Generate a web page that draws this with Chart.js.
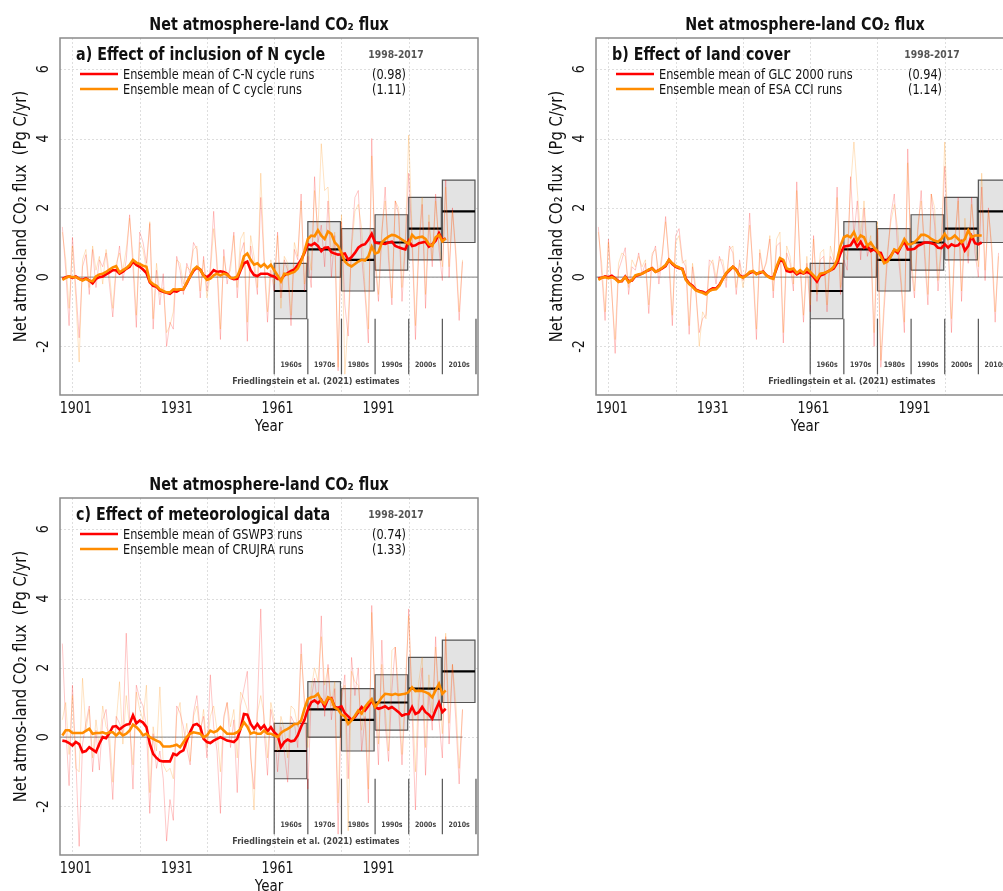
<!DOCTYPE html>
<html>
<head>
<meta charset="utf-8">
<script src="https://cdn.jsdelivr.net/npm/chart.js@4.4.0/dist/chart.umd.min.js"></script>
<style>
  html, body { margin: 0; padding: 0; background: #fff; width: 1003px; height: 891px; overflow: hidden; }
  canvas { position: absolute; }
  #pa { left: 0; top: 0; }
  #pb { left: 536px; top: 0; }
  #pc { left: 0; top: 460px; }
</style>
</head>
<body>
<canvas id="pa" width="480" height="445"></canvas>
<canvas id="pb" width="480" height="445"></canvas>
<canvas id="pc" width="480" height="445"></canvas>
<script>
// annual series start in 1897, smoothed ensemble means run 1897-2011
const thinStart = 1897;
const meanStart = 1897;

// a) C-N vs C cycle
const cnThin = [1.45, 0.2, -1.4,
  1.15, -0.3, -1.75, 0.3, 0.65, -0.5, 0.8, -0.3, 0.5, 0.3,
  0.7, -0.2, -1.15, 0.2, 0.9, -0.1, 0.5, 1.8, 0.3, -1.45,
  1.3, 1.0, 0.4, 1.55, -1.5, 0.2, -0.8, 0.1, -2.0, -1.3,
  -1.5, 0.6, 0.2, -0.5, 0.4, 0.1, 1.0, 0.8, -0.6, 0.6,
  -0.4, 0.3, 1.9, 0.2, -1.8, 0.8, -0.2, 0.4, 1.3, -0.6,
  0.7, 1.0, -1.85, 0.9, 0.3, -0.5, 2.3, 0.4, -1.3, 0.2,
  -0.4, 1.3, -0.6, 0.5, 0.2, -1.4, 0.8, 0.5, 2.4, -0.4,
  0.6, -0.3, 2.9, 1.0, 1.5, 0.3, 2.2, 0.0, 1.2, -2.7,
  1.6, -0.8, -1.7, 1.0, 2.3, 2.5, 0.6, -0.5, -1.9, 4.0,
  0.4, -0.7, 1.2, 2.6, 0.5, -0.8, 2.2, 1.8, -0.7, 0.9,
  3.0, 1.0, -1.8, 0.8, 2.1, -0.9, 1.6, 0.3, 2.4, 0.8,
  -0.1, 2.8, 0.0, 2.0, 0.6, -1.25, 0.45];
const cThin = [1.3, 0.5, -0.9,
  0.9, -0.6, -2.45, 0.5, 0.8, -0.3, 0.9, 0.2, 0.6, -0.2,
  0.8, 0.1, -0.9, 0.4, 0.7, 0.2, 0.8, 1.7, 0.6, -1.1,
  1.0, 0.8, 0.2, 1.6, -1.2, 0.4, -0.5, -0.3, -1.6, -1.4,
  -1.0, 0.5, 0.4, -0.2, 0.3, 0.2, 0.8, 0.9, -0.4, 0.5,
  -0.6, 0.1, 1.4, 0.5, -1.5, 0.6, 0.0, 0.2, 1.2, -0.3,
  1.1, 1.3, -1.3, 1.2, 0.6, -0.3, 3.0, 0.6, -1.0, 0.5,
  -0.2, 1.2, -0.9, 0.6, 0.4, -1.1, 1.0, 0.6, 2.2, -0.2,
  0.9, 0.2, 2.5, 1.3, 3.85, 2.5, 2.6, 0.6, 1.3, -2.6,
  1.8, -2.8, -1.2, 0.8, 1.9, 2.1, 1.4, -0.3, -1.5, 3.5,
  0.6, -0.5, 1.4, 2.2, 0.8, -0.6, 2.2, 2.0, -0.3, 1.1,
  4.1, 1.3, -1.4, 1.0, 2.3, -0.5, 1.8, 0.5, 2.2, 1.0,
  0.3, 2.6, 0.3, 1.9, 0.8, -1.0, 0.5];
const cnMean = [-0.05, 0.0, 0.02,
  -0.02, 0.02, -0.05, -0.08, -0.03, -0.1, -0.18, -0.05, 0.0, 0.02,
  0.08, 0.14, 0.2, 0.2, 0.1, 0.16, 0.24, 0.3, 0.45, 0.35,
  0.3, 0.22, 0.12, -0.15, -0.25, -0.28, -0.38, -0.42, -0.45, -0.48,
  -0.4, -0.42, -0.36, -0.35, -0.18, 0.02, 0.18, 0.28, 0.22, 0.05,
  0.0, 0.08, 0.2, 0.15, 0.17, 0.15, 0.1, -0.02, -0.06, -0.05,
  0.2, 0.4, 0.45, 0.2, 0.06, 0.03, 0.1, 0.1, 0.1, 0.05,
  0.02, -0.05, -0.06, 0.05, 0.12, 0.18, 0.22, 0.35, 0.5, 0.7,
  0.95, 0.92, 0.98, 0.9, 0.75, 0.85, 0.86, 0.72, 0.68, 0.65,
  0.66, 0.68, 0.5, 0.58, 0.7, 0.85, 0.92, 0.95, 1.08, 1.25,
  1.0, 0.98, 0.97, 0.96, 1.0, 1.02, 0.9, 0.86, 0.83, 0.8,
  1.05, 0.9, 0.92, 0.98, 1.0, 1.02, 0.88, 0.95, 1.05, 1.27,
  1.06, 1.12];
const cMean = [-0.08, -0.02, 0.02,
  0.0, 0.0, -0.05, -0.1, -0.05, -0.1, -0.12, 0.02, 0.08, 0.1,
  0.15, 0.22, 0.28, 0.32, 0.14, 0.2, 0.26, 0.35, 0.5, 0.42,
  0.38, 0.33, 0.3, -0.12, -0.2, -0.25, -0.35, -0.4, -0.44, -0.44,
  -0.35, -0.36, -0.35, -0.35, -0.15, 0.02, 0.22, 0.3, 0.22, 0.05,
  -0.08, -0.04, 0.05, 0.1, 0.05, 0.1, 0.07, -0.02, -0.03, 0.02,
  0.25, 0.6, 0.68, 0.5, 0.36, 0.4, 0.3, 0.38, 0.27, 0.36,
  0.2, 0.05, -0.12, 0.1, 0.08, 0.12, 0.15, 0.25, 0.45, 0.75,
  1.1, 1.2, 1.18, 1.35, 1.2, 1.1, 1.32, 1.25, 1.0, 0.9,
  0.7, 0.45, 0.36, 0.31, 0.38, 0.45, 0.5, 0.48, 0.6, 0.88,
  0.68, 0.72, 1.0, 1.1, 1.17, 1.22, 1.2, 1.15, 1.08, 1.02,
  0.96, 1.22, 1.12, 1.15, 1.17, 1.1, 0.95, 0.9, 1.15, 1.22,
  1.03, 1.12];

// b) GLC 2000 vs ESA CCI land cover
const glcThin = [1.45, 0.1, -1.25,
  1.1, -0.4, -2.2, 0.2, 0.5, 0.85, -0.5, 0.3, 0.2, 0.7,
  0.1, 0.4, -1.05, 0.6, 0.9, -0.2, 0.6, 1.75, 0.4, -1.4,
  1.2, 1.4, 0.5, 0.3, -1.65, 0.3, -0.5, -1.6, -1.2, -1.1,
  0.5, 0.4, -0.2, 0.6, 0.3, -0.3, 0.9, 0.7, -0.5, 0.5,
  -0.1, 0.2, 1.85, 0.1, -1.8, 0.7, 0.1, 0.5, 1.1, -0.6,
  0.9, 1.0, -1.9, 0.7, 0.4, -0.4, 2.75, 0.3, -1.3, 0.4,
  -1.0, 1.2, -0.7, 0.5, 0.6, -1.0, 0.6, 0.4, 2.6, -0.5,
  0.5, 0.2, 2.9, 1.2, 2.2, 0.5, 2.0, 0.6, 1.0, -2.0,
  1.4, -2.6, -0.9, 0.6, 1.8, 2.4, 0.8, -0.2, -1.6, 3.7,
  0.3, -0.6, 1.3, 2.5, 0.6, -0.8, 2.4, 1.5, -0.4, 0.8,
  3.2, 0.9, -1.6, 0.9, 2.3, -0.7, 1.4, 0.4, 2.3, 0.7,
  0.0, 2.6, -0.1, 2.0, 0.7, -1.3, 0.7];
const esaThin = [1.3, 0.4, -1.0,
  1.0, -0.5, -1.8, 0.4, 0.7, 0.6, -0.3, 0.5, 0.3, 0.6,
  0.3, 0.5, -0.8, 0.7, 0.8, 0.1, 0.7, 1.6, 0.6, -1.1,
  1.0, 1.2, 0.4, 0.5, -1.4, 0.4, -0.3, -2.0, -1.0, -1.2,
  0.3, 0.5, 0.0, 0.5, 0.5, -0.1, 0.8, 0.9, -0.3, 0.4,
  -0.3, 0.3, 1.5, 0.3, -1.5, 0.8, 0.2, 0.4, 1.2, -0.4,
  1.1, 1.3, -1.6, 0.9, 0.6, -0.2, 2.5, 0.5, -1.1, 0.6,
  -0.8, 1.1, -0.5, 0.7, 0.8, -0.8, 0.9, 0.5, 2.3, -0.3,
  0.8, 0.5, 2.6, 3.9, 2.5, 1.2, 2.2, 0.8, 1.2, -1.6,
  1.6, -2.4, -0.6, 0.8, 1.6, 2.1, 1.4, 0.0, -1.3, 3.3,
  0.6, -0.4, 1.5, 2.2, 0.9, -0.5, 2.4, 2.0, -0.1, 1.0,
  3.9, 1.2, -1.2, 1.1, 2.2, -0.4, 1.7, 0.6, 2.1, 1.0,
  0.3, 3.0, 0.2, 1.9, 0.9, -1.0, 0.6];
const glcMean = [-0.03, -0.02, 0.02,
  0.0, 0.04, -0.03, -0.12, -0.12, 0.02, -0.12, -0.1, 0.03, 0.06,
  0.1, 0.16, 0.2, 0.26, 0.16, 0.2, 0.25, 0.32, 0.5, 0.38,
  0.3, 0.26, 0.24, -0.05, -0.18, -0.25, -0.36, -0.4, -0.42, -0.47,
  -0.38, -0.32, -0.33, -0.22, -0.05, 0.1, 0.2, 0.3, 0.22, 0.05,
  0.0, 0.05, 0.12, 0.16, 0.1, 0.12, 0.16, 0.05, 0.0, -0.03,
  0.25, 0.5, 0.45, 0.18, 0.15, 0.18, 0.08, 0.14, 0.1, 0.15,
  0.1, 0.0, -0.13, 0.05, 0.08, 0.15, 0.2, 0.25, 0.4, 0.68,
  0.88, 0.9, 0.92, 1.08, 0.88, 1.02, 0.85, 0.9, 0.75, 0.8,
  0.72, 0.7, 0.45, 0.5, 0.62, 0.78, 0.7, 0.88, 1.03, 0.8,
  0.8, 0.82, 0.9, 0.95, 1.0, 1.0, 0.98, 0.95, 0.85, 0.84,
  0.95, 0.85, 0.95, 0.9, 0.92, 1.03, 0.77, 0.9, 1.18, 0.98,
  0.95, 1.0];
const esaMean = [-0.08, -0.02, 0.0,
  -0.03, 0.0, -0.05, -0.14, -0.1, 0.0, -0.15, -0.08, 0.05, 0.08,
  0.1, 0.15, 0.22, 0.25, 0.15, 0.2, 0.27, 0.35, 0.5, 0.4,
  0.32, 0.28, 0.22, -0.08, -0.2, -0.28, -0.38, -0.42, -0.45, -0.5,
  -0.4, -0.36, -0.35, -0.25, -0.05, 0.12, 0.22, 0.3, 0.2, 0.03,
  -0.02, 0.05, 0.15, 0.18, 0.08, 0.15, 0.15, 0.05, -0.02, -0.05,
  0.3, 0.55, 0.5, 0.25, 0.22, 0.25, 0.12, 0.2, 0.12, 0.25,
  0.15, 0.05, -0.05, 0.1, 0.12, 0.15, 0.2, 0.3, 0.5, 0.9,
  1.15, 1.2, 1.15, 1.3, 1.05, 1.2, 1.15, 0.9, 1.0, 0.85,
  0.75, 0.6, 0.4, 0.45, 0.6, 0.8, 0.75, 0.9, 1.1, 0.95,
  0.95, 1.0, 1.1, 1.22, 1.22, 1.18, 1.1, 1.05, 1.02, 1.1,
  1.25, 1.1, 1.12, 1.2, 1.1, 1.0, 1.1, 1.35, 1.15, 1.2,
  1.2, 1.2];

// c) GSWP3 vs CRUJRA forcing
const gswpThin = [2.7, 0.3, -1.4,
  1.5, -0.6, -3.15, -0.2, 0.4, 0.9, -1.0, 0.2, -0.95, 0.5,
  0.8, -0.3, -1.8, 0.6, 0.4, 0.1, 3.0, 0.5, -1.5, 1.5,
  1.1, 0.9, 0.3, -2.2, 0.1, -0.9, -0.4, -1.2, -3.0, -1.8,
  -2.4, 0.9, 0.7, 0.3, -0.3, -0.8, 0.7, 1.2, 0.2, 0.6,
  -0.6, 1.8, 0.3, -0.4, -2.2, 0.6, 1.0, -0.3, 0.5, -1.6,
  0.9, 1.4, 1.9, -0.6, -1.5, 0.9, 3.7, 0.2, -1.1, 0.8,
  0.3, -1.0, 0.3, -0.4, -1.3, 0.6, 0.4, -0.3, 2.7, 0.9,
  -1.5, 1.1, 1.7, 0.8, 3.5, 0.6, 2.1, 0.5, 1.4, -2.8,
  1.0, 1.8, -1.2, 2.3, 1.2, 2.0, -0.4, 0.6, -1.9, 3.8,
  1.0, -0.8, 2.8, 0.4, -0.7, 1.4, 2.6, 0.8, -0.8, 1.1,
  3.7, 0.7, -2.1, 1.0, 2.0, -1.1, 1.3, 0.2, 2.9, 0.5,
  -0.6, 2.9, -0.2, 2.1, 0.5, -1.35, 0.8];
const crujraThin = [0.5, 1.0, -0.5,
  1.2, -0.9, -1.0, 1.7, 0.2, 0.8, -0.6, 0.5, -0.3, 0.9,
  0.3, 0.1, -1.3, 0.4, 1.6, -0.2, 1.2, 0.3, -0.8, 1.3,
  0.8, 0.5, 1.5, -1.6, 0.3, -0.4, 1.45, -0.8, -1.0, -0.9,
  -1.2, 0.6, 1.0, -0.3, 0.4, -0.7, 0.6, 0.9, 0.1, 0.8,
  -0.3, 0.6, 0.9, 0.2, -1.0, 0.5, 1.0, 0.3, 0.8, -0.6,
  1.3, 1.1, 0.8, -0.4, -2.1, 0.7, 1.2, 0.6, -0.6, 1.0,
  0.5, -0.4, 0.6, 0.2, -0.6, 0.9, 0.8, 0.3, 2.4, 1.1,
  -0.3, 1.4, 2.0, 1.6, 2.9, 1.5, 2.0, 0.9, 1.6, -1.9,
  1.3, 1.5, -2.7, 1.9, 1.6, 1.5, 0.2, 0.9, -1.5, 3.6,
  1.2, -0.2, 2.1, 0.8, -0.4, 2.5, 2.6, 1.3, -0.5, 1.5,
  3.5, 1.2, -1.0, 1.6, 2.3, -0.3, 1.8, 0.7, 2.6, 1.2,
  0.1, 3.0, 0.4, 2.1, 1.0, -0.9, 0.8];
const gswpMean = [-0.1, -0.12, -0.17,
  -0.24, -0.14, -0.2, -0.43, -0.4, -0.29, -0.36, -0.43, -0.19, 0.0,
  -0.03, 0.12, 0.3, 0.32, 0.22, 0.3, 0.36, 0.38, 0.63, 0.4,
  0.48, 0.42, 0.29, -0.19, -0.48, -0.6, -0.68, -0.7, -0.7, -0.7,
  -0.48, -0.52, -0.43, -0.38, -0.1, 0.15, 0.35, 0.38, 0.3, -0.05,
  -0.14, -0.17, -0.1, -0.05, 0.0, -0.05, -0.1, -0.12, -0.14, -0.05,
  0.24, 0.67, 0.65, 0.38, 0.24, 0.38, 0.24, 0.34, 0.17, 0.29,
  0.14, 0.05, -0.29, -0.14, -0.07, -0.12, -0.1, 0.05, 0.3, 0.5,
  0.8, 1.0, 1.06, 0.98, 1.08, 0.87, 1.1, 1.13, 0.87, 0.85,
  0.89, 0.69, 0.6, 0.5, 0.58, 0.72, 0.87, 0.77, 0.9, 1.06,
  0.87, 0.82, 0.85, 0.89, 0.82, 0.87, 0.8, 0.72, 0.62, 0.66,
  0.67, 0.87, 0.67, 0.72, 0.87, 0.72, 0.65, 0.53, 0.78, 1.0,
  0.72, 0.82];
const crujraMean = [0.05, 0.2, 0.2,
  0.12, 0.12, 0.12, 0.12, 0.18, 0.24, 0.1, 0.12, 0.12, 0.14,
  0.1, 0.14, 0.14, 0.05, 0.14, 0.05, 0.1, 0.19, 0.36, 0.29,
  0.19, 0.05, 0.1, 0.0, -0.05, -0.1, -0.14, -0.27, -0.27, -0.27,
  -0.25, -0.22, -0.29, -0.15, 0.0, 0.1, 0.14, 0.12, 0.1, 0.0,
  0.05, 0.19, 0.14, 0.18, 0.29, 0.19, 0.1, 0.1, 0.1, 0.14,
  0.24, 0.43, 0.3, 0.1, 0.14, 0.1, 0.1, 0.19, 0.1, 0.1,
  0.05, 0.0, 0.12, 0.19, 0.24, 0.3, 0.38, 0.38, 0.48, 0.82,
  1.1, 1.15, 1.17, 1.25, 1.05, 0.96, 1.15, 1.1, 0.85, 0.8,
  0.65, 0.6, 0.38, 0.48, 0.62, 0.77, 0.68, 0.87, 1.0, 1.1,
  0.87, 1.0, 1.15, 1.25, 1.24, 1.22, 1.25, 1.22, 1.24, 1.25,
  1.3, 1.44, 1.33, 1.34, 1.33, 1.3, 1.25, 1.15, 1.35, 1.54,
  1.25, 1.35];

// Friedlingstein et al. (2021) decadal land sink estimates
const decades = [1960, 1970, 1980, 1990, 2000, 2010];
const decadeNames = ['1960s', '1970s', '1980s', '1990s', '2000s', '2010s'];
const decadeLow = [-1.2, 0.0, -0.4, 0.2, 0.5, 1.0];
const decadeHigh = [0.4, 1.6, 1.4, 1.8, 2.3, 2.8];
const decadeMid = [-0.4, 0.8, 0.5, 1.0, 1.4, 1.9];

const xTicks = [1901, 1931, 1961, 1991];
const yTicks = [-2, 0, 2, 4, 6];
const xGrid = [1900, 1920, 1940, 1960, 1980, 2000];

const X_MIN = 1896.3, X_MAX = 2020.6, Y_MIN = -3.4, Y_MAX = 6.9;
const FONT = '"DejaVu Sans", sans-serif';
const SX = 0.84;   // horizontal squeeze of all lettering

const RED = '#ff0000', ORANGE = '#ff8c00';
const RED_T = 'rgba(255,0,0,0.22)', ORANGE_T = 'rgba(255,140,0,0.24)';

function pts(start, vals) {
  return vals.map((v, i) => ({ x: start + i, y: v }));
}

function text(ctx, s, x, y, font, color, align, rotated) {
  ctx.save();
  ctx.translate(x, y);
  if (rotated) ctx.rotate(-Math.PI / 2);
  ctx.scale(SX, 1);
  ctx.font = font;
  ctx.fillStyle = color;
  ctx.textAlign = align || 'left';
  ctx.textBaseline = 'alphabetic';
  ctx.fillText(s, 0, 0);
  ctx.restore();
}

const decor = {
  id: 'decor',
  beforeDatasetsDraw(chart) {
    const { ctx, chartArea: a, scales: { x, y } } = chart;
    ctx.save();
    ctx.strokeStyle = '#dedede';
    ctx.lineWidth = 1;
    ctx.setLineDash([2, 2]);
    xGrid.forEach(v => {
      const px = Math.round(x.getPixelForValue(v)) + 0.5;
      ctx.beginPath(); ctx.moveTo(px, a.top); ctx.lineTo(px, a.bottom); ctx.stroke();
    });
    yTicks.forEach(v => {
      const py = Math.round(y.getPixelForValue(v)) + 0.5;
      ctx.beginPath(); ctx.moveTo(a.left, py); ctx.lineTo(a.right, py); ctx.stroke();
    });
    ctx.restore();
  },
  afterDraw(chart, args, o) {
    const { ctx, chartArea: a, scales: { x, y } } = chart;
    ctx.save();
    ctx.strokeStyle = '#8a8a8a';
    ctx.lineWidth = 1.5;
    ctx.strokeRect(a.left, a.top, a.right - a.left, a.bottom - a.top);
    ctx.restore();

    const mid = (a.left + a.right) / 2;
    text(ctx, 'Net atmosphere-land CO\u2082 flux', mid, 29.5, 'bold 17px ' + FONT, '#111', 'center');
    text(ctx, o.panel, a.left + 16, 60, 'bold 17px ' + FONT, '#111', 'left');
    text(ctx, '1998-2017', a.left + 336, 57.5, 'bold 11px ' + FONT, '#555', 'center');

    [RED, ORANGE].forEach((c, i) => {
      const ly = 74 + i * 15;
      ctx.save();
      ctx.strokeStyle = c; ctx.lineWidth = 2.5;
      ctx.beginPath(); ctx.moveTo(a.left + 20, ly); ctx.lineTo(a.left + 58, ly); ctx.stroke();
      ctx.restore();
      text(ctx, o.names[i], a.left + 63, ly + 5, '13.5px ' + FONT, '#111', 'left');
      text(ctx, o.periodMeans[i], a.left + 329, ly + 5, '13.5px ' + FONT, '#111', 'center');
    });

    xTicks.forEach(v => text(ctx, String(v), x.getPixelForValue(v), a.bottom + 18, '15px ' + FONT, '#111', 'center'));
    yTicks.forEach(v => text(ctx, String(v), a.left - 12, y.getPixelForValue(v), '15px ' + FONT, '#111', 'center', true));
    text(ctx, 'Year', mid, a.bottom + 36, '16px ' + FONT, '#111', 'center');
    text(ctx, 'Net atmos-land CO\u2082 flux  (Pg C/yr)', a.left - 34, (a.top + a.bottom) / 2, '17.5px ' + FONT, '#111', 'center', true);

    decades.forEach((d, i) => {
      text(ctx, decadeNames[i], x.getPixelForValue(d + 5), y.getPixelForValue(-2.58), 'bold 7.5px ' + FONT, '#444', 'center');
    });
    text(ctx, 'Friedlingstein et al. (2021) estimates', x.getPixelForValue(1972.4), y.getPixelForValue(-3.07), 'bold 9.5px ' + FONT, '#444', 'center');
  }
};

function boxDatasets() {
  const w = 9.7;
  const out = [];
  decades.forEach((d, i) => {
    out.push({
      data: [{ x: d, y: decadeHigh[i] }, { x: d + w, y: decadeHigh[i] }],
      fill: { value: decadeLow[i] }, backgroundColor: '#e3e3e3',
      borderColor: 'rgba(0,0,0,0)', borderWidth: 1, order: 16
    });
    out.push({
      data: [{ x: d, y: decadeLow[i] }, { x: d + w, y: decadeLow[i] }, { x: d + w, y: decadeHigh[i] },
             { x: d, y: decadeHigh[i] }, { x: d, y: decadeLow[i] }],
      borderColor: '#555', borderWidth: 1.2, order: 15
    });
    out.push({
      data: [{ x: d, y: decadeMid[i] }, { x: d + w, y: decadeMid[i] }],
      borderColor: '#000', borderWidth: 2.2, order: 14
    });
  });
  // dividers under the boxes, one at each decade boundary
  const div = [];
  decades.concat([2020]).forEach(d => {
    div.push({ x: d, y: decadeLow[0] }, { x: d, y: -2.8 }, { x: d, y: null });
  });
  out.push({ data: div, borderColor: '#555', borderWidth: 1.2, spanGaps: false, order: 13 });
  return out;
}

function makePanel(id, s) {
  const datasets = [
    { data: [{ x: X_MIN, y: 0 }, { x: s.zeroEnd, y: 0 }], borderColor: '#9a9a9a', borderWidth: 1.3, order: 20 },
    ...boxDatasets(),
    { data: pts(thinStart, s.redThin), borderColor: RED_T, borderWidth: 1, order: 6 },
    { data: pts(thinStart, s.orangeThin), borderColor: ORANGE_T, borderWidth: 1, order: 5 },
    { data: pts(meanStart, s.redMean), borderColor: RED, borderWidth: 2.6, order: 2 },
    { data: pts(meanStart, s.orangeMean), borderColor: ORANGE, borderWidth: 2.6, order: 1 }
  ];
  datasets.forEach(ds => {
    ds.pointRadius = 0;
    ds.tension = 0;
    if (ds.fill === undefined) ds.fill = false;
  });
  new Chart(document.getElementById(id), {
    type: 'line',
    data: { datasets },
    options: {
      responsive: false,
      animation: false,
      devicePixelRatio: 1,
      layout: { padding: { left: 60, top: 38, right: 2, bottom: 50 } },
      scales: {
        x: { type: 'linear', min: X_MIN, max: X_MAX, display: false },
        y: { type: 'linear', min: Y_MIN, max: Y_MAX, display: false }
      },
      plugins: {
        legend: { display: false },
        tooltip: { enabled: false },
        decor: { panel: s.panel, names: s.names, periodMeans: s.periodMeans }
      }
    },
    plugins: [decor]
  });
}

makePanel('pa', {
  panel: 'a) Effect of inclusion of N cycle',
  names: ['Ensemble mean of C-N cycle runs', 'Ensemble mean of C cycle runs'],
  periodMeans: ['(0.98)', '(1.11)'],
  redThin: cnThin, orangeThin: cThin, redMean: cnMean, orangeMean: cMean, zeroEnd: X_MAX
});
makePanel('pb', {
  panel: 'b) Effect of land cover',
  names: ['Ensemble mean of GLC 2000 runs', 'Ensemble mean of ESA CCI runs'],
  periodMeans: ['(0.94)', '(1.14)'],
  redThin: glcThin, orangeThin: esaThin, redMean: glcMean, orangeMean: esaMean, zeroEnd: X_MAX
});
makePanel('pc', {
  panel: 'c) Effect of meteorological data',
  names: ['Ensemble mean of GSWP3 runs', 'Ensemble mean of CRUJRA runs'],
  periodMeans: ['(0.74)', '(1.33)'],
  redThin: gswpThin, orangeThin: crujraThin, redMean: gswpMean, orangeMean: crujraMean, zeroEnd: 2016
});
</script>
</body>
</html>
